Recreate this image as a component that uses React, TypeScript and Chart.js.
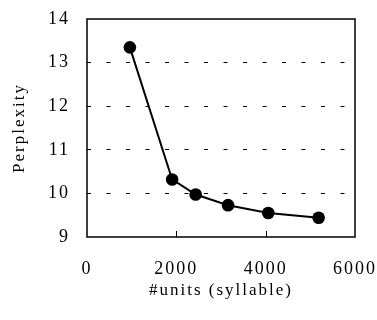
import React, { useEffect, useRef } from "react";
import { Chart, registerables } from "chart.js";

Chart.register(...registerables);

const unitCounts = [960, 1906, 2433, 3158, 4058, 5186];
const perplexity = [13.35, 10.32, 9.975, 9.73, 9.55, 9.44];
const xTickValues = [0, 2000, 4000, 6000];
const yTickValues = [9, 10, 11, 12, 13, 14];
const xTitle = "#units (syllable)";
const yTitle = "Perplexity";

const FONT = "'Liberation Serif', 'Times New Roman', serif";

const framePlugin = {
  id: "frame",
  beforeDraw(chart: any) {
    (chart.ctx as any).letterSpacing = "2px";
  },
  afterDatasetsDraw(chart: any) {
    const { ctx, chartArea } = chart;
    const xs = chart.scales.x;
    ctx.save();
    ctx.strokeStyle = "#000";
    ctx.lineWidth = 1;
    xTickValues.forEach((v) => {
      if (v === xs.min || v === xs.max) return;
      const px = Math.round(xs.getPixelForValue(v)) + 0.5;
      ctx.beginPath();
      ctx.moveTo(px, chartArea.bottom);
      ctx.lineTo(px, chartArea.bottom - 6);
      ctx.stroke();
    });
    ctx.lineWidth = 1.5;
    ctx.strokeRect(
      chartArea.left,
      chartArea.top,
      chartArea.right - chartArea.left,
      chartArea.bottom - chartArea.top
    );
    ctx.restore();
  },
};

export default function App() {
  const ref = useRef<HTMLCanvasElement | null>(null);

  useEffect(() => {
    if (!ref.current) return;
    const chart = new Chart(ref.current, {
      type: "line",
      data: {
        datasets: [
          {
            data: unitCounts.map((x, i) => ({ x, y: perplexity[i] })),
            borderColor: "#000",
            backgroundColor: "#000",
            borderWidth: 2,
            pointRadius: 6.3,
            pointBorderWidth: 0,
            pointBackgroundColor: "#000",
            tension: 0,
          },
        ],
      },
      options: {
        animation: false,
        responsive: false,
        events: [],
        layout: { padding: { top: 19, right: 22, left: 0, bottom: 0 } },
        plugins: {
          legend: { display: false },
          tooltip: { enabled: false },
        },
        scales: {
          x: {
            type: "linear",
            min: 0,
            max: 6000,
            afterBuildTicks: (scale: any) => {
              scale.ticks = xTickValues.map((v) => ({ value: v }));
            },
            afterFit: (scale: any) => {
              scale.height = 83;
              scale.paddingLeft = 0;
              scale.paddingRight = 0;
            },
            grid: { display: false, drawTicks: false },
            border: { display: false },
            ticks: {
              color: "#000",
              padding: 21,
              maxRotation: 0,
              autoSkip: false,
              callback: (v: any) => String(v),
              font: { family: FONT, size: 18 },
            },
            title: {
              display: true,
              text: xTitle,
              color: "#000",
              font: { family: FONT, size: 17 },
              padding: { top: 0, bottom: 19 },
            },
          },
          y: {
            type: "linear",
            min: 9,
            max: 14,
            afterBuildTicks: (scale: any) => {
              scale.ticks = yTickValues.map((v) => ({ value: v }));
            },
            afterFit: (scale: any) => {
              scale.width = 87;
              scale.paddingTop = 0;
              scale.paddingBottom = 0;
            },
            grid: {
              drawTicks: false,
              lineWidth: 1,
              color: (c: any) =>
                c.tick && (c.tick.value === 9 || c.tick.value === 14)
                  ? "rgba(0,0,0,0)"
                  : "#000",
            },
            border: { display: false, dash: [4, 15.5], dashOffset: 0 },
            ticks: {
              color: "#000",
              padding: 17,
              autoSkip: false,
              callback: (v: any) => String(v),
              font: { family: FONT, size: 18 },
            },
            title: {
              display: true,
              text: yTitle,
              color: "#000",
              font: { family: FONT, size: 17 },
              padding: { top: 9, bottom: 0 },
            },
          },
        },
      },
      plugins: [framePlugin],
    });
    return () => chart.destroy();
  }, []);

  return (
    <div style={{ position: "fixed", left: 0, top: 0, width: 377, height: 320, background: "#fff" }}>
      <canvas ref={ref} width={377} height={320} style={{ display: "block" }} />
    </div>
  );
}
